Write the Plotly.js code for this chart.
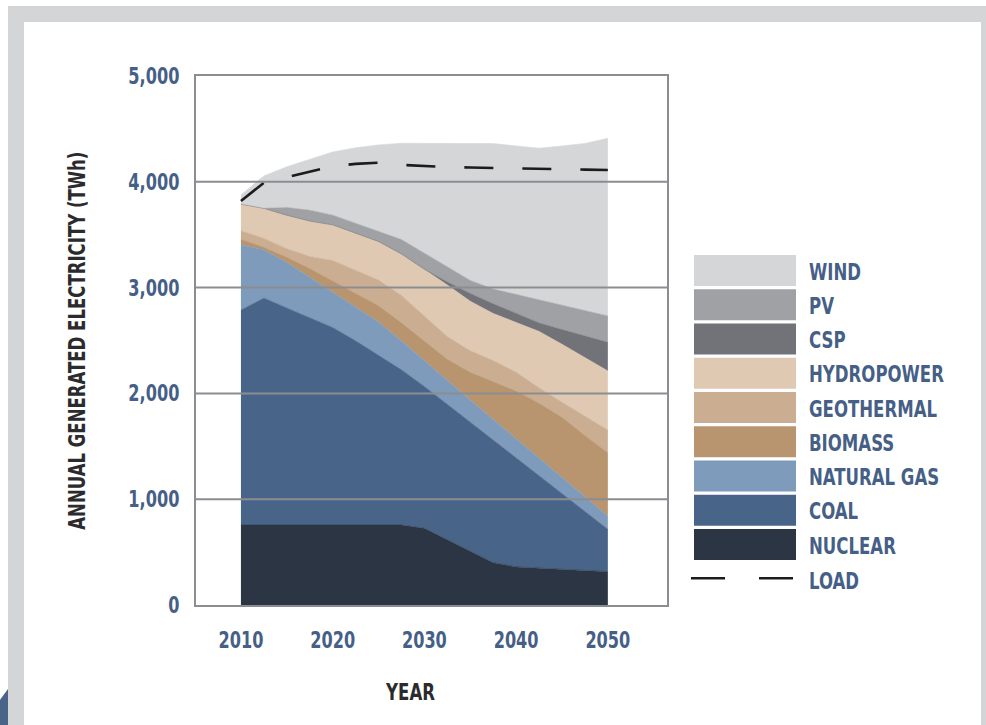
<!DOCTYPE html>
<html><head><meta charset="utf-8">
<script src="https://cdn.plot.ly/plotly-3.0.1.min.js"></script>
<style>
html,body{margin:0;padding:0;background:#fff;}
#wrap{position:relative;width:986px;height:725px;overflow:hidden;background:#fff;}
.band{position:absolute;background:#d4d5d7;}
#chart{position:absolute;left:0;top:0;width:986px;height:725px;}
</style></head><body>
<div id="wrap">
<div class="band" style="left:8px;top:6px;width:978px;height:16px"></div>
<div class="band" style="left:8px;top:6px;width:16px;height:719px"></div>
<div class="band" style="left:981px;top:6px;width:5px;height:719px"></div>
<div style="position:absolute;left:0;top:689px;width:8px;height:36px;background:#486488;clip-path:polygon(0 30%,100% 0,100% 100%,0 100%)"></div>
<div id="chart"></div>
</div>
<script>
// ---- data (TWh) ----
const years = [2010, 2012.5, 2015, 2017.5, 2020, 2022.5, 2025, 2027.5, 2030, 2032.5, 2035, 2037.5, 2040, 2042.5, 2045, 2047.5, 2050];
const nuclear    = [756, 756, 756, 756, 756, 756, 756, 756, 725, 617, 508, 400, 360, 349, 337, 326, 315];
const coal       = [2032, 2145, 2052, 1960, 1867, 1741, 1604, 1467, 1341, 1280, 1219, 1158, 1028, 869, 711, 552, 401];
const naturalGas = [615, 457, 429, 381, 334, 319, 315, 273, 241, 225, 211, 196, 182, 169, 154, 140, 125];
const biomass    = [54, 23, 49, 83, 106, 130, 154, 171, 187, 200, 261, 357, 452, 521, 572, 585, 599];
const geothermal = [81, 84, 82, 114, 194, 218, 242, 259, 237, 215, 204, 200, 178, 146, 143, 180, 214];
const hydropower = [252, 284, 316, 335, 336, 351, 365, 392, 443, 488, 468, 444, 470, 532, 547, 557, 558];
const csp        = [0, 0, 0, 0, 0, 0, 0, 0, 0, 28, 73, 92, 86, 80, 139, 202, 271];
const pv         = [0, 0, 73, 102, 92, 93, 100, 136, 151, 144, 124, 139, 178, 217, 229, 239, 249];
const wind       = [85, 307, 385, 481, 597, 713, 813, 910, 1039, 1167, 1296, 1375, 1405, 1435, 1507, 1582, 1679];
const load       = [3819, 3991, 4043, 4095, 4147, 4169, 4180, 4160, 4149, 4140, 4135, 4130, 4125, 4121, 4118, 4115, 4112];

const xTicks = [2010, 2020, 2030, 2040, 2050];
const yTicks = [0, 1000, 2000, 3000, 4000, 5000];
const yTickText = ['0', '1,000', '2,000', '3,000', '4,000', '5,000'];
const seriesNames = ['NUCLEAR', 'COAL', 'NATURAL GAS', 'BIOMASS', 'GEOTHERMAL', 'HYDROPOWER', 'CSP', 'PV', 'WIND'];
const seriesData = [nuclear, coal, naturalGas, biomass, geothermal, hydropower, csp, pv, wind];
const loadName = 'LOAD';
const xTitle = 'YEAR';
const yTitle = 'ANNUAL GENERATED ELECTRICITY (TWh)';

// ---- styles ----
const colors = ['#2b3543', '#486488', '#7f9bbb', '#b8956e', '#cbae91', '#dfc9b3', '#727378', '#a0a1a5', '#d5d6d8'];
const FONT = "'Liberation Sans Narrow', 'Arial Narrow', 'DejaVu Sans Condensed', sans-serif";
const TXT = '#465f87';
const DARK = '#2b2b2d';
const AX = '#8c8d90';
const FS = 23;

const L = 196, R = 667, T = 76, B = 605;
const px = x => (x - L) / (R - L);
const py = y => (B - y) / (B - T);

const traces = seriesData.map((d, i) => ({
  type: 'scatter', x: years, y: d, name: seriesNames[i],
  stackgroup: 'one', mode: 'lines',
  line: {width: 0.6, color: colors[i]}, fillcolor: colors[i],
  hoverinfo: 'skip', showlegend: false
}));
traces.push({
  type: 'scatter', x: years, y: load, name: loadName, mode: 'lines',
  line: {color: '#1c1c1e', width: 2.6, dash: '29px,29px'},
  hoverinfo: 'skip', showlegend: false
});

const shapes = [];
// gridlines drawn over the areas
yTicks.filter(v => v > 0 && v < 5000).forEach(v => shapes.push({
  type: 'line', xref: 'paper', yref: 'y', x0: 0, x1: 1, y0: v, y1: v,
  layer: 'above', line: {color: AX, width: 2}
}));

const annotations = [];
const lf = {family: FONT, size: FS, color: TXT, weight: 700};
// custom legend (top to bottom)
const legendOrder = seriesNames.map((n, i) => i).reverse();
legendOrder.forEach((si, k) => {
  const top = 255 + k * 34.25;
  shapes.push({type: 'rect', xref: 'paper', yref: 'paper',
    x0: px(694), x1: px(796), y0: py(top), y1: py(top + 31),
    fillcolor: colors[si], line: {width: 0}, layer: 'above'});
  annotations.push({xref: 'paper', yref: 'paper', x: px(807), y: py(top + 16.5),
    xanchor: 'left', yanchor: 'middle', align: 'left', showarrow: false, text: seriesNames[si], font: lf});
});
const loadY = 255 + 9 * 34.25;
[[691, 725], [759, 793]].forEach(([a, b]) => shapes.push({type: 'line', xref: 'paper', yref: 'paper',
  x0: px(a), x1: px(b), y0: py(loadY + 15), y1: py(loadY + 15), line: {color: '#1c1c1e', width: 2.6}}));
annotations.push({xref: 'paper', yref: 'paper', x: px(807), y: py(loadY + 17.5),
  xanchor: 'left', yanchor: 'middle', align: 'left', showarrow: false, text: loadName, font: lf});
// axis titles
annotations.push({xref: 'paper', yref: 'paper', x: px(410), y: py(692), xanchor: 'center', yanchor: 'middle',
  showarrow: false, text: xTitle, font: {family: FONT, size: FS, color: DARK, weight: 700}});
annotations.push({xref: 'paper', yref: 'paper', x: px(77), y: py(341), xanchor: 'center', yanchor: 'middle',
  textangle: -90, showarrow: false, text: yTitle, font: {family: FONT, size: FS, color: DARK, weight: 700}});

const layout = {
  width: 986, height: 725,
  margin: {l: L, r: 986 - R, t: T, b: 725 - B, pad: 0},
  paper_bgcolor: 'rgba(0,0,0,0)', plot_bgcolor: '#ffffff',
  showlegend: false,
  xaxis: {range: [2005.1, 2056.45], tickvals: xTicks, ticktext: xTicks.map(String),
    showgrid: false, zeroline: false, showline: true, mirror: true, linecolor: AX, linewidth: 2,
    ticks: '', ticklabelstandoff: 13, tickfont: {family: FONT, size: FS, color: TXT, weight: 700}},
  yaxis: {range: [0, 5000], tickvals: yTicks, ticktext: yTickText,
    showgrid: false, zeroline: false, showline: true, mirror: true, linecolor: AX, linewidth: 2,
    ticks: '', ticklabelstandoff: 10, tickfont: {family: FONT, size: FS, color: TXT, weight: 700}},
  shapes: shapes, annotations: annotations
};

// narrow the installed condensed face further so text widths match the reference
function condense(sel, f) {
  document.querySelectorAll(sel).forEach(t => {
    const w = t.getComputedTextLength();
    if (w > 0) {
      t.setAttribute('textLength', (w * f).toFixed(1));
      t.setAttribute('lengthAdjust', 'spacingAndGlyphs');
    }
  });
}
Plotly.newPlot('chart', traces, layout, {staticPlot: true, displayModeBar: false}).then(() => {
  condense('#chart .xtick text', 0.78);
  condense('#chart .ytick text', 0.78);
  condense('#chart .annotation-text', 0.8);
});
</script>
</body></html>
